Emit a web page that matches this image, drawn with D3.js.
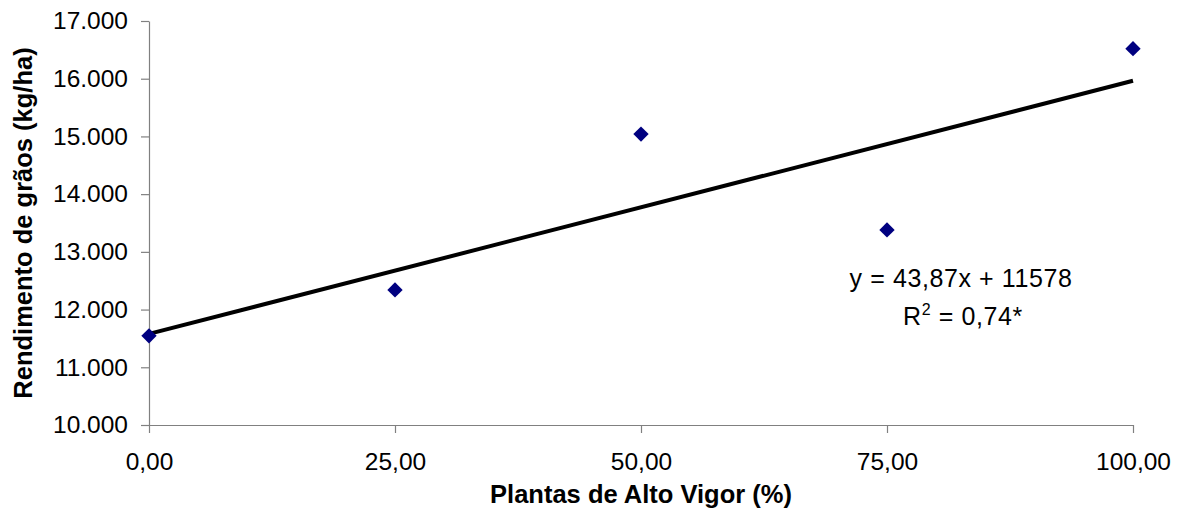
<!DOCTYPE html>
<html>
<head>
<meta charset="utf-8">
<script src="https://cdn.jsdelivr.net/npm/d3@7"></script>
<style>
  body { margin: 0; background: #fff; }
  text { font-family: "Liberation Sans", Arial, sans-serif; fill: #000; }
</style>
</head>
<body>
<div id="chart"></div>
<script>
// Rendimento de grãos x plantas de alto vigor

const vigor = [0, 25, 50, 75, 100];
const rendimento = [11545, 12340, 15040, 13380, 16520];
const xTicks = [0, 25, 50, 75, 100];
const yTicks = [10000, 11000, 12000, 13000, 14000, 15000, 16000, 17000];
const slope = 43.87, intercept = 11578;
const eqLines = ['y = 43,87x + 11578', 'R|2| = 0,74*'];

const width = 1181, height = 523;
const margin = { top: 21, right: 48, bottom: 98, left: 149 };

const locale = d3.formatLocale({ decimal: ',', thousands: '.', grouping: [3], currency: ['R$', ''] });

const svg = d3.select('#chart')
  .append('svg')
  .attr('width', width)
  .attr('height', height);

const x = d3.scaleLinear().domain([0, 100]).range([margin.left, width - margin.right]);
const y = d3.scaleLinear().domain([10000, 17000]).range([height - margin.bottom, margin.top]);

// y axis
const yAxis = svg.append('g')
  .attr('transform', `translate(${x(0)},0)`)
  .call(d3.axisLeft(y).tickValues(yTicks).tickFormat(locale.format(',.0f')).tickSize(8).tickSizeOuter(0).tickPadding(13));

// x axis
const xAxis = svg.append('g')
  .attr('transform', `translate(0,${y(10000)})`)
  .call(d3.axisBottom(x).tickValues(xTicks).tickFormat(locale.format(',.2f')).tickSize(8).tickSizeOuter(0).tickPadding(20));

[yAxis, xAxis].forEach(g => {
  g.selectAll('path, line').attr('stroke', '#808080').attr('stroke-width', 1.2);
  g.selectAll('text').attr('font-size', 24.5).attr('fill', '#000')
    .style('font-family', '"Liberation Sans", Arial, sans-serif');
});

// trend line
svg.append('line')
  .attr('x1', x(0)).attr('y1', y(intercept))
  .attr('x2', x(100)).attr('y2', y(intercept + slope * 100))
  .attr('stroke', '#000')
  .attr('stroke-width', 4);

// data points
svg.selectAll('path.pt')
  .data(vigor.map((v, i) => ({ v, r: rendimento[i] })))
  .enter()
  .append('path')
  .attr('class', 'pt')
  .attr('d', d3.symbol(d3.symbolDiamond2, 150))
  .attr('transform', d => `translate(${x(d.v)},${y(d.r)})`)
  .attr('fill', '#000080');

// equation
const eq = svg.append('g').attr('font-size', 25).attr('text-anchor', 'middle')
  .attr('letter-spacing', 0.6);
eq.append('text').attr('x', 961).attr('y', 287).text(eqLines[0]);
const r2 = eq.append('text').attr('x', 963).attr('y', 325);
const parts = eqLines[1].split('|');
r2.append('tspan').text(parts[0]);
r2.append('tspan').attr('font-size', 16).attr('dy', -10).text(parts[1]);
r2.append('tspan').attr('dy', 10).text(parts[2]);

// axis titles
svg.append('text')
  .attr('x', (x(0) + x(100)) / 2)
  .attr('y', 503)
  .attr('text-anchor', 'middle')
  .attr('font-size', 25.5)
  .attr('font-weight', 'bold')
  .text('Plantas de Alto Vigor (%)');

svg.append('text')
  .attr('transform', `translate(32,${(y(10000) + y(17000)) / 2}) rotate(-90)`)
  .attr('text-anchor', 'middle')
  .attr('font-size', 25.5)
  .attr('font-weight', 'bold')
  .text('Rendimento de grãos (kg/ha)');
</script>
</body>
</html>
